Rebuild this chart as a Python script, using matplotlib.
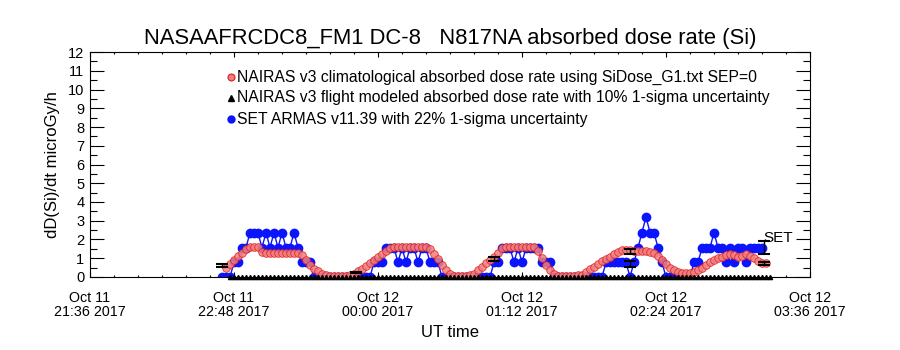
import matplotlib
matplotlib.use("Agg")
import matplotlib.pyplot as plt
from matplotlib.ticker import MultipleLocator, FixedLocator

plt.rcParams['font.family'] = ['Liberation Sans', 'DejaVu Sans']

title = "NASAAFRCDC8_FM1 DC-8   N817NA absorbed dose rate (Si)"
ylabel = "dD(Si)/dt microGy/h"
xlabel = "UT time"
x_tick_minutes = [0, 72, 144, 216, 288, 360]          # minutes since Oct 11 21:36 UT
x_tick_labels = ["Oct 11\n21:36 2017", "Oct 11\n22:48 2017", "Oct 12\n00:00 2017",
                 "Oct 12\n01:12 2017", "Oct 12\n02:24 2017", "Oct 12\n03:36 2017"]
legend_labels = ["NAIRAS v3 climatological absorbed dose rate using SiDose_G1.txt SEP=0",
                 "NAIRAS v3 flight modeled absorbed dose rate with 10% 1-sigma uncertainty",
                 "SET ARMAS v11.39 with 22% 1-sigma uncertainty"]

# NAIRAS climatological dose rate, every 2 min starting at minute 68
clim_start, clim_step = 68, 2
clim_rate = [0.5, 0.7, 0.9, 1.1, 1.3, 1.5, 1.6, 1.6, 1.6, 1.35,
             1.3, 1.3, 1.3, 1.3, 1.3, 1.3, 1.3, 1.3, 1.3, 1.15,
             0.9, 0.65, 0.45, 0.3, 0.18, 0.1, 0.06, 0.06, 0.06, 0.06,
             0.06, 0.08, 0.15, 0.3, 0.45, 0.6, 0.75, 0.9, 1.05, 1.2,
             1.4, 1.55, 1.62, 1.62, 1.62, 1.62, 1.62, 1.62, 1.62, 1.62,
             1.6, 1.5, 1.25, 0.95, 0.65, 0.35, 0.15, 0.06, 0.06, 0.06,
             0.06, 0.08, 0.15, 0.35, 0.55, 0.75, 0.9, 1.05, 1.3, 1.55,
             1.62, 1.62, 1.62, 1.62, 1.62, 1.62, 1.62, 1.6, 1.4, 1.0,
             0.65, 0.35, 0.15, 0.06, 0.06, 0.06, 0.06, 0.06, 0.08, 0.12,
             0.25, 0.4, 0.55, 0.7, 0.85, 0.95, 1.05, 1.2, 1.35, 1.42,
             1.45, 1.42, 1.4, 1.4, 1.38, 1.38, 1.35, 1.3, 1.1, 0.9,
             0.7, 0.5, 0.35, 0.25, 0.2, 0.2, 0.2, 0.25, 0.35, 0.5,
             0.65, 0.8, 0.9, 1.0, 1.05, 1.15, 1.2, 1.15, 1.05, 1.1,
             1.2, 1.1, 1.0, 0.85, 0.75, 0.72]

# SET ARMAS measured dose rate, every 2 min starting at minute 66
set_start, set_step = 66, 2
set_rate = [0, 0, 0, 0.78, 0.78, 1.56, 1.56, 2.37, 2.37, 2.37,
            1.56, 2.37, 1.56, 2.37, 1.56, 2.37, 1.56, 1.56, 2.37, 1.56,
            0.78, 0.78, 0.78, 0, 0, 0, 0, 0, 0, 0,
            0, 0, 0, 0, 0, 0, 0, 0, 0.78, 0.78,
            0.78, 1.56, 1.56, 1.56, 0.78, 1.56, 0.78, 1.56, 1.56, 0.78,
            1.56, 1.56, 0.78, 0.78, 0.78, 0, 0, 0, 0, 0,
            0, 0, 0, 0, 0, 0, 0, 0, 0.78, 0.78,
            1.56, 1.56, 1.56, 0.78, 1.56, 0.78, 1.56, 1.56, 1.56, 1.56,
            0.78, 0.78, 0.78, 0, 0, 0, 0, 0, 0, 0,
            0, 0, 0, 0, 0, 0, 0.78, 0.78, 0.78, 0.78,
            0.78, 0.78, 0, 0.78, 1.56, 2.37, 3.2, 2.37, 2.37, 1.56,
            0.78, 0, 0, 0, 0, 0, 0, 0, 0.78, 0.78,
            1.56, 1.56, 1.56, 2.37, 1.56, 1.56, 0.78, 1.56, 0.78, 1.56,
            1.56, 0.78, 1.56, 1.56, 1.56, 1.56]

# NAIRAS flight modeled: zero-level points (2-min) and a few points with error bars
flight_start, flight_step = 70, 2
flight_zero = [0] * 136
flight_t = [66, 133, 202, 270, 270, 337]
flight_rate = [0.62, 0.22, 0.95, 1.35, 0.7, 0.72]
flight_err = [0.08, 0.03, 0.12, 0.13, 0.15, 0.07]
set_err_t = [337]
set_err_rate = [1.56]
set_err = [0.34]
set_label = "SET"

clim_t = [clim_start + clim_step * i for i in range(len(clim_rate))]
set_t = [set_start + set_step * i for i in range(len(set_rate))]
zero_t = [flight_start + flight_step * i for i in range(len(flight_zero))]

fig = plt.figure(figsize=(9, 3.5), dpi=100)
ax = fig.add_axes([0.1, 0.2086, 0.8, 0.6428])

RED = '#e01818'
PINK = '#f08080'
BLUE = '#0a14ff'

ax.plot(set_t, set_rate, color=BLUE, lw=1.0, marker='o', ms=6, mec=BLUE, mfc=BLUE, zorder=2)
ax.plot(clim_t, clim_rate, ls='none', marker='o', ms=5.5, mfc=PINK, mec=RED, mew=0.6,
        alpha=0.85, zorder=3)
ax.plot(zero_t, flight_zero, ls='none', marker='^', ms=3, color='black', zorder=4, clip_on=False)
ax.errorbar(flight_t, flight_rate, yerr=flight_err, fmt='none', ecolor='black',
            elinewidth=1.0, capsize=4, capthick=1.5, zorder=5)
ax.errorbar(set_err_t, set_err_rate, yerr=set_err, fmt='none', ecolor='black',
            elinewidth=1.0, capsize=4, capthick=1.5, zorder=5)
ax.text(336.5, 2.1, set_label, fontsize=11, ha='left', va='center')

ax.set_xlim(0, 360)
ax.set_ylim(0, 12)
ax.xaxis.set_major_locator(FixedLocator(x_tick_minutes))
ax.set_xticklabels(x_tick_labels, fontsize=10.3, linespacing=1.05)
ax.xaxis.set_minor_locator(MultipleLocator(12))
ax.yaxis.set_major_locator(MultipleLocator(1))
ax.yaxis.set_minor_locator(MultipleLocator(0.5))
ax.tick_params(axis='y', which='major', direction='in', length=10.4, width=0.8,
               right=True, labelsize=10.5, pad=4)
ax.tick_params(axis='y', which='minor', direction='in', length=5.2, width=0.8, right=True)
ax.tick_params(axis='x', which='major', direction='in', length=3.3, width=0.8,
               top=True, pad=10)
ax.tick_params(axis='x', which='minor', direction='in', length=1.7, width=0.8, top=True)
for s in ax.spines.values():
    s.set_linewidth(0.8)

ax.set_title(title, fontsize=15.8, pad=6)
ax.set_ylabel(ylabel, fontsize=12, labelpad=6)
ax.set_xlabel(xlabel, fontsize=12, labelpad=4)

# legend drawn manually (no frame)
leg_y = [0.889, 0.796, 0.702]
ax.plot([0.196], [leg_y[0]], transform=ax.transAxes, marker='o', ms=5, mfc=PINK,
        mec=RED, mew=0.8, ls='none')
ax.plot([0.196], [leg_y[1]], transform=ax.transAxes, marker='^', ms=5, color='black', ls='none')
ax.plot([0.196], [leg_y[2]], transform=ax.transAxes, marker='o', ms=5, color=BLUE, ls='none')
for y, lab in zip(leg_y, legend_labels):
    ax.text(0.204, y, lab, transform=ax.transAxes, fontsize=11.3, va='center', ha='left')

fig.savefig("out.png", dpi=100)
